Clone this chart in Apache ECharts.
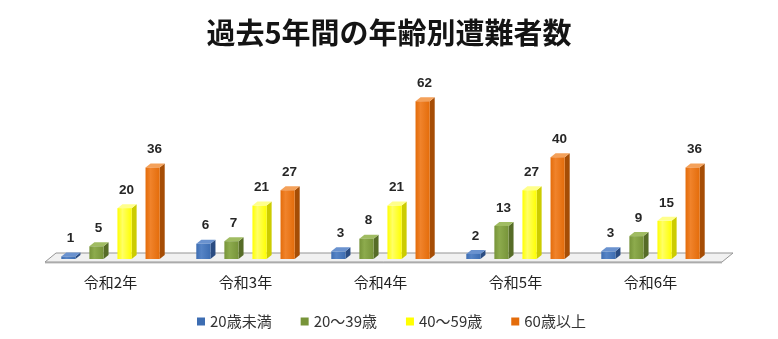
<!DOCTYPE html>
<html>
<head>
<meta charset="utf-8">
<script src="https://cdn.jsdelivr.net/npm/echarts@6/dist/echarts.min.js"></script>
<style>
html, body { margin: 0; padding: 0; background: #fff; }
#chart { width: 778px; height: 339px; }
</style>
</head>
<body>
<div id="chart"></div>
<script>
// Accident victims by age group, last five years
const categories = ['令和2年', '令和3年', '令和4年', '令和5年', '令和6年'];
const seriesNames = ['20歳未満', '20～39歳', '40～59歳', '60歳以上'];
const under20 = [1, 6, 3, 2, 3];
const age20to39 = [5, 7, 8, 13, 9];
const age40to59 = [20, 21, 21, 27, 15];
const over60 = [36, 27, 62, 40, 36];

// front / side / top shades for each box
const palettes = [
  { front: '#3d6db2', light: '#5684c6', side: '#2a4c82', top: '#6a92cf' },
  { front: '#779439', light: '#8dab4d', side: '#566c27', top: '#a0bc62' },
  { front: '#ffff00', light: '#ffff66', side: '#cccc00', top: '#ffff8c' },
  { front: '#e46c0a', light: '#f0832b', side: '#a64d05', top: '#f4a15a' }
];

const DEPTH_X = 5, DEPTH_Y = 4;

function boxRenderer(idx) {
  const pal = palettes[idx];
  return function (params, api) {
    const cat = api.value(0);
    const val = api.value(1);
    const base = api.coord([cat, 0]);
    const top = api.coord([cat, val]);
    const band = api.size([1, 0])[0];
    const step = band * 0.208;
    const w = band * 0.105;
    const cx = base[0] + (idx - 1.5) * step;
    const x0 = cx - w / 2, x1 = cx + w / 2;
    const yb = base[1], yt = top[1];
    const grad = new echarts.graphic.LinearGradient(0, 0, 1, 0, [
      { offset: 0, color: pal.front },
      { offset: 0.35, color: pal.light },
      { offset: 1, color: pal.front }
    ]);
    return {
      type: 'group',
      children: [
        { type: 'polygon', shape: { points: [[x1, yb], [x1 + DEPTH_X, yb - DEPTH_Y], [x1 + DEPTH_X, yt - DEPTH_Y], [x1, yt]] }, style: { fill: pal.side } },
        { type: 'polygon', shape: { points: [[x0, yt], [x1, yt], [x1 + DEPTH_X, yt - DEPTH_Y], [x0 + DEPTH_X, yt - DEPTH_Y]] }, style: { fill: pal.top } },
        { type: 'rect', shape: { x: x0, y: yt, width: w, height: yb - yt }, style: { fill: grad } },
        { type: 'text', style: { text: String(val), x: cx + 2, y: yt - 18, align: 'center', verticalAlign: 'middle', fill: '#262626', fontSize: 13.5, fontFamily: 'Liberation Sans, Arial, sans-serif', fontWeight: 'bold' } }
      ]
    };
  };
}

// floor slab under all categories
function floorRenderer(params, api) {
  const mid = api.coord([2, 0]);
  const band = api.size([1, 0])[0];
  const left = mid[0] - band * 2.5 + 2;
  const right = mid[0] + band * 2.5 + 4;
  const yf = mid[1] + 3;
  const bx = 11, by = 9;
  return {
    type: 'group',
    children: [
      { type: 'polygon', shape: { points: [[left, yf], [right, yf], [right, yf + 1.5], [left, yf + 1.5]] }, style: { fill: '#c0c0c0' } },
      { type: 'polygon', shape: { points: [[left, yf], [right, yf], [right + bx, yf - by], [left + bx, yf - by]] }, style: { fill: '#f1f1f1', stroke: '#959595', lineWidth: 1 } }
    ]
  };
}

const valueSets = [under20, age20to39, age40to59, over60];

const series = [{
  type: 'custom',
  name: 'floor',
  renderItem: floorRenderer,
  data: [[2, 0]],
  encode: { x: 0, y: 1 },
  z: 1,
  silent: true
}];
valueSets.forEach(function (vals, i) {
  series.push({
    type: 'custom',
    name: seriesNames[i],
    renderItem: boxRenderer(i),
    data: vals.map(function (v, c) { return [c, v]; }),
    encode: { x: 0, y: 1 },
    itemStyle: { color: palettes[i].front },
    z: 2
  });
});

const chart = echarts.init(document.getElementById('chart'), null, { renderer: 'canvas' });
chart.setOption({
  backgroundColor: '#ffffff',
  animation: false,
  title: {
    text: '過去5年間の年齢別遭難者数',
    left: 'center',
    top: 13,
    textStyle: { fontSize: 29, fontWeight: 'bold', color: '#141414', fontFamily: 'Noto Sans CJK JP' }
  },
  legend: {
    data: seriesNames,
    left: 192,
    top: 309,
    icon: 'rect',
    itemWidth: 8,
    itemHeight: 8,
    itemGap: 29,
    textStyle: { fontSize: 15, color: '#333', fontFamily: 'Noto Sans CJK JP' }
  },
  grid: { left: 43, width: 675, top: 81, height: 178 },
  xAxis: {
    type: 'category',
    data: categories,
    axisLine: { show: false },
    axisTick: { show: false },
    splitLine: { show: false },
    axisLabel: { fontSize: 15, color: '#222', margin: 16, fontFamily: 'Noto Sans CJK JP' }
  },
  yAxis: { type: 'value', min: 0, max: 70, show: false },
  series: series
});
</script>
</body>
</html>
